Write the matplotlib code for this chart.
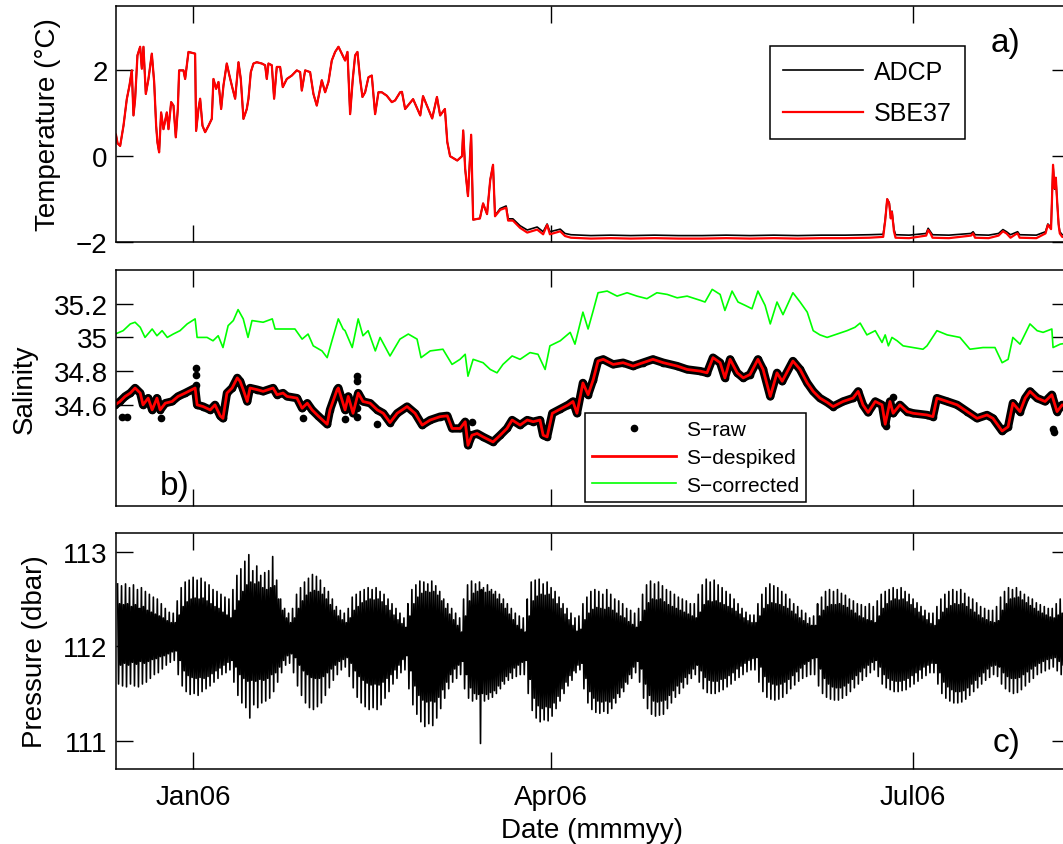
import numpy as np
import matplotlib
matplotlib.use('Agg')
import matplotlib.pyplot as plt
import matplotlib.dates as mdates
from matplotlib.ticker import FixedLocator, FixedFormatter

# mooring record: days counted from 1 Jan 2006
day0 = np.datetime64('2006-01-01T00:00')
x_range = [-19.4, 220.2]

# ---------------------------------------------
# temperature (same curve for both until late March)
# ---------------------------------------------
warm_day = [-19.4, -19.0, -18.35, -17.51, -16.68, -16.0, -15.42, -15.0, -14.58, -14.0,
            -13.32, -12.9, -12.49, -11.9, -11.23, -10.39, -9.8, -9.3, -8.97, -8.55,
            -8.05, -7.46, -6.62, -6.2, -5.53, -4.94, -4.36, -3.85, -3.52, -2.43,
            -2.01, -1.17, 0.5, 0.75, 1.34, 1.76, 2.35, 3.02, 3.86, 4.69,
            5.11, 5.78, 6.37, 7.04, 7.63, 8.46, 9.13, 9.72, 10.56, 11.4,
            11.98, 12.65, 13.49, 13.91, 14.5, 15.17, 16.0, 17.26, 18.1, 18.52,
            18.94, 19.78, 20.36, 21.03, 21.87, 22.54, 23.55, 24.81, 26.06, 26.9,
            27.32, 28.16, 29.41, 30.25, 31.09, 31.76, 32.35, 33.19, 34.02, 34.86,
            35.7, 36.54, 37.38, 38.21, 38.8, 39.47, 40.14, 40.73, 41.31, 41.98,
            42.57, 43.24, 44.08, 44.92, 45.75, 46.59, 47.43, 48.69, 49.95, 50.78,
            52.04, 52.5, 53.3, 55.3, 57.1, 57.8, 60.1, 61.3, 62.1, 63.3,
            63.9, 64.6, 66.4, 67.6, 67.9, 68.4, 69.1, 69.9, 70.4, 72.1,
            72.9, 73.9, 74.7, 75.4]
warm_temp = [0.50, 0.30, 0.24, 0.71, 1.33, 1.65, 2.00, 0.95, 1.34, 2.35,
             2.55, 2.04, 2.55, 1.45, 1.80, 2.39, 1.73, 0.71, 0.32, 0.09,
             1.02, 0.63, 1.02, 0.63, 1.26, 1.18, 0.44, 1.10, 2.00, 2.00,
             1.80, 2.43, 2.39, 0.59, 1.10, 1.34, 0.71, 0.56, 0.71, 0.87,
             1.80, 1.57, 1.73, 1.10, 1.65, 2.16, 1.88, 1.65, 1.34, 2.19,
             1.80, 0.87, 1.10, 1.34, 1.96, 2.16, 2.19, 2.16, 2.12, 1.80,
             2.16, 2.12, 1.34, 2.08, 2.08, 1.61, 1.80, 1.88, 2.00, 1.96,
             1.53, 2.00, 1.96, 1.45, 1.18, 1.49, 1.77, 1.49, 1.73, 2.23,
             2.43, 2.55, 2.39, 2.23, 2.43, 0.98, 1.80, 2.35, 2.43, 1.80,
             1.38, 1.49, 1.84, 1.88, 0.98, 1.49, 1.49, 1.41, 1.26, 1.30,
             1.49, 1.50, 1.10, 1.33, 0.95, 1.40, 0.88, 1.38, 0.95, 1.10,
             0.33, 0.00, -0.10, 0.00, 0.60, -0.30, -0.93, 0.50, -1.48, -1.45,
             -1.10, -1.35, -0.55, -0.20]

cold_day = [75.9, 77.2, 78.7, 79.2, 80.4, 82.2, 84.0, 86.5, 88.0, 89.0,
            89.7, 92.3, 93.5, 95, 100, 105, 110, 116, 122, 128,
            134, 140, 146, 152, 158, 164, 170, 173.5, 174.0, 174.5,
            175.0, 175.4, 175.7, 176.2, 176.6, 180, 184.3, 184.8, 185.4, 185.9,
            190, 195.6, 196.1, 196.6, 200, 202.5, 203.6, 204.5, 205.5, 206.8,
            207.3, 207.8, 212, 214.3, 214.9, 215.7, 216.2, 216.6, 216.9, 217.2,
            217.6, 217.9, 218.5, 220.5]
sbe37_cold = [-1.40, -1.25, -1.20, -1.50, -1.50, -1.67, -1.78, -1.71, -1.82, -1.60,
              -1.82, -1.75, -1.86, -1.90, -1.92, -1.91, -1.92, -1.91, -1.92, -1.92,
              -1.91, -1.92, -1.91, -1.92, -1.91, -1.91, -1.90, -1.88, -1.50, -1.00,
              -1.10, -1.45, -1.30, -1.75, -1.90, -1.91, -1.85, -1.72, -1.80, -1.90,
              -1.91, -1.85, -1.80, -1.90, -1.91, -1.85, -1.75, -1.80, -1.90, -1.82,
              -1.80, -1.90, -1.91, -1.80, -1.60, -1.70, -0.20, -0.75, -0.50, -1.00,
              -1.60, -1.80, -1.88, -1.90]
adcp_cold = [-1.38, -1.22, -1.16, -1.46, -1.46, -1.62, -1.72, -1.65, -1.76, -1.58,
             -1.76, -1.70, -1.80, -1.83, -1.85, -1.84, -1.85, -1.84, -1.85, -1.85,
             -1.84, -1.85, -1.84, -1.85, -1.84, -1.84, -1.83, -1.82, -1.48, -1.00,
             -1.08, -1.42, -1.28, -1.70, -1.83, -1.84, -1.80, -1.68, -1.76, -1.83,
             -1.84, -1.80, -1.76, -1.83, -1.84, -1.80, -1.71, -1.76, -1.83, -1.78,
             -1.76, -1.83, -1.84, -1.76, -1.58, -1.66, -0.22, -0.77, -0.52, -1.02,
             -1.58, -1.76, -1.83, -1.84]

# ---------------------------------------------
# salinity: despiked, corrected and raw spikes
# ---------------------------------------------
sal_day = [-19.6, -18.4, -17.1, -15.8, -14.6, -13.3, -12.6, -11.3, -10.3, -9.1,
           -8.3, -7.0, -5.3, -3.8, -2.0, -0.3, 0.5, 1.0, 2.5, 4.3,
           5.5, 6.8, 7.5, 8.5, 9.8, 11.1, 11.8, 12.6, 13.6, 14.3,
           16.1, 17.6, 20.1, 21.1, 22.6, 23.6, 26.1, 27.4, 28.7, 29.9,
           31.4, 33.7, 34.4, 36.2, 36.5, 38.2, 39.0, 40.2, 41.5, 42.7,
           44.5, 46.3, 47.8, 49.5, 51.3, 53.8, 55.8, 57.6, 59.6, 62.1,
           63.9, 65.1, 67.1, 68.4, 69.1, 70.1, 71.4, 72.9, 75.4, 77.2,
           78.9, 80.2, 82.2, 84.0, 85.5, 87.2, 88.0, 89.0, 90.3, 92.3,
           94.3, 95.5, 96.5, 98.0, 99.3, 100.6, 101.8, 103.1, 105.6, 108.1,
           110.6, 113.1, 115.6, 118.2, 121.7, 124.2, 127.5, 129.2, 130.7, 132.5,
           133.7, 135.0, 136.8, 138.3, 140.0, 142.0, 143.3, 145.1, 146.8, 148.1,
           150.8, 152.6, 154.4, 155.9, 157.6, 159.4, 160.9, 163.4, 165.9, 167.2,
           168.4, 169.7, 171.5, 173.2, 174.0, 175.2, 176.0, 177.7, 179.5, 181.0,
           184.5, 186.0, 187.0, 189.6, 192.1, 194.6, 197.1, 199.6, 201.1, 203.4,
           204.9, 206.1, 207.9, 209.2, 210.4, 212.2, 214.2, 215.9, 217.2, 218.5,
           220.5]
sal_despiked = [34.60, 34.62, 34.65, 34.67, 34.70, 34.67, 34.60, 34.64, 34.57, 34.64,
                34.57, 34.61, 34.62, 34.65, 34.67, 34.69, 34.70, 34.60, 34.59, 34.57,
                34.60, 34.535, 34.52, 34.67, 34.70, 34.76, 34.74, 34.69, 34.62, 34.70,
                34.69, 34.68, 34.70, 34.66, 34.67, 34.65, 34.64, 34.58, 34.61, 34.57,
                34.535, 34.485, 34.57, 34.69, 34.70, 34.57, 34.65, 34.55, 34.67, 34.62,
                34.61, 34.57, 34.55, 34.495, 34.55, 34.59, 34.55, 34.48, 34.51, 34.53,
                34.535, 34.46, 34.46, 34.50, 34.36, 34.42, 34.43, 34.41, 34.38, 34.42,
                34.46, 34.51, 34.48, 34.51, 34.50, 34.51, 34.42, 34.41, 34.55, 34.575,
                34.60, 34.62, 34.55, 34.73, 34.66, 34.75, 34.86, 34.87, 34.84, 34.85,
                34.83, 34.85, 34.87, 34.85, 34.83, 34.81, 34.80, 34.79, 34.88, 34.85,
                34.76, 34.87, 34.79, 34.76, 34.78, 34.87, 34.81, 34.65, 34.79, 34.74,
                34.86, 34.81, 34.73, 34.68, 34.64, 34.615, 34.59, 34.62, 34.64, 34.68,
                34.60, 34.555, 34.62, 34.60, 34.485, 34.62, 34.55, 34.60, 34.56, 34.55,
                34.54, 34.53, 34.64, 34.62, 34.60, 34.56, 34.52, 34.54, 34.52, 34.445,
                34.47, 34.61, 34.56, 34.64, 34.68, 34.64, 34.62, 34.66, 34.56, 34.60,
                34.58]

corr_day = [-19.6, -17.6, -15.8, -14.6, -13.3, -12.1, -10.3, -9.1, -7.8, -6.5,
            -5.0, -3.3, -1.5, 0.5, 1.0, 3.5, 5.0, 6.3, 7.5, 8.8,
            10.1, 11.3, 12.6, 13.8, 14.8, 17.6, 19.9, 20.6, 22.6, 25.6,
            27.4, 28.9, 30.2, 32.4, 33.7, 34.9, 36.5, 37.7, 38.2, 40.0,
            41.5, 42.7, 44.0, 45.8, 47.0, 49.5, 52.0, 54.1, 56.3, 57.3,
            59.6, 62.8, 65.1, 67.1, 68.4, 69.1, 70.4, 72.9, 74.7, 76.4,
            77.9, 80.2, 82.2, 84.7, 86.7, 88.5, 89.7, 92.3, 94.8, 96.0,
            98.0, 99.3, 100.6, 101.8, 104.1, 106.6, 109.1, 111.6, 114.1, 116.6,
            119.2, 121.7, 124.2, 127.5, 128.7, 130.5, 132.5, 133.7, 135.5, 137.0,
            138.8, 140.5, 142.0, 143.8, 145.1, 146.8, 148.3, 150.8, 152.6, 154.4,
            155.9, 157.6, 159.4, 161.9, 164.4, 166.4, 167.7, 169.4, 171.5, 173.2,
            174.0, 174.8, 175.7, 177.0, 178.5, 181.0, 183.5, 184.5, 187.0, 189.6,
            192.8, 195.3, 198.6, 201.6, 203.4, 204.9, 206.1, 207.9, 210.4, 212.2,
            213.7, 215.9, 216.2, 218.0, 220.5]
sal_corrected = [35.02, 35.04, 35.08, 35.09, 35.06, 35.00, 35.05, 35.01, 35.04, 35.00,
                 35.02, 35.04, 35.08, 35.11, 35.00, 35.00, 34.98, 35.01, 34.94, 35.07,
                 35.10, 35.165, 35.11, 35.00, 35.10, 35.09, 35.11, 35.05, 35.05, 35.05,
                 34.99, 35.02, 34.95, 34.92, 34.88, 34.98, 35.11, 35.05, 35.04, 34.94,
                 35.11, 35.01, 35.04, 34.92, 35.00, 34.89, 34.99, 35.02, 34.99, 34.88,
                 34.92, 34.93, 34.84, 34.87, 34.90, 34.77, 34.87, 34.85, 34.81, 34.79,
                 34.84, 34.89, 34.87, 34.91, 34.90, 34.81, 34.95, 34.98, 35.03, 34.96,
                 35.15, 35.05, 35.16, 35.265, 35.275, 35.245, 35.265, 35.245, 35.23, 35.265,
                 35.255, 35.235, 35.245, 35.22, 35.21, 35.285, 35.255, 35.16, 35.275, 35.21,
                 35.19, 35.17, 35.275, 35.19, 35.08, 35.21, 35.135, 35.265, 35.21, 35.15,
                 35.04, 35.015, 35.00, 35.02, 35.04, 35.06, 35.085, 35.015, 35.04, 34.97,
                 35.015, 34.95, 35.00, 34.98, 34.95, 34.94, 34.93, 34.95, 35.04, 35.015,
                 35.00, 34.93, 34.94, 34.94, 34.85, 34.87, 35.00, 34.96, 35.08, 35.04,
                 35.03, 35.05, 34.94, 34.96, 34.97]

# raw samples removed by the despiking
spike_day = [-17.8, -16.6, -8.0, 0.8, 0.8, 0.8, 27.7, 38.2, 41.2, 41.2,
             41.2, 41.2, 46.3, 70.1, 174.3, 176.0, 216.2, 216.4]
spike_sal = [34.525, 34.525, 34.52, 34.82, 34.78, 34.72, 34.52, 34.515, 34.77, 34.74,
             34.58, 34.525, 34.485, 34.50, 34.475, 34.645, 34.455, 34.44]

# ---------------------------------------------
# bottom pressure: daily tidal extremes, days -19 .. 220
# higher high, lower high, higher low, lower low
# ---------------------------------------------
p_day = np.arange(-19, 221)
p_high_outer = [112.66, 112.64, 112.66, 112.62, 112.65, 112.60, 112.62, 112.58, 112.55, 112.52,
                112.50, 112.45, 112.40, 112.36, 112.35, 112.48, 112.62, 112.68, 112.70, 112.73,
                112.70, 112.72, 112.68, 112.65, 112.60, 112.58, 112.55, 112.52, 112.50, 112.60,
                112.75, 112.82, 112.90, 112.97, 112.80, 112.85, 112.75, 112.78, 112.80, 112.95,
                112.70, 112.50, 112.40, 112.35, 112.40, 112.55, 112.62, 112.68, 112.72, 112.76,
                112.74, 112.70, 112.62, 112.58, 112.50, 112.42, 112.38, 112.35, 112.40, 112.52,
                112.55, 112.58, 112.60, 112.62, 112.60, 112.62, 112.58, 112.55, 112.50, 112.45,
                112.40, 112.35, 112.30, 112.45, 112.60, 112.65, 112.69, 112.68, 112.66, 112.69,
                112.64, 112.58, 112.50, 112.45, 112.40, 112.35, 112.30, 112.50, 112.65, 112.69,
                112.66, 112.68, 112.62, 112.65, 112.60, 112.58, 112.55, 112.50, 112.45, 112.40,
                112.35, 112.32, 112.30, 112.50, 112.68, 112.70, 112.71, 112.66, 112.68, 112.62,
                112.58, 112.52, 112.45, 112.40, 112.35, 112.30, 112.32, 112.45, 112.52, 112.58,
                112.60, 112.58, 112.55, 112.60, 112.55, 112.50, 112.48, 112.45, 112.40, 112.38,
                112.35, 112.40, 112.55, 112.65, 112.69, 112.66, 112.68, 112.64, 112.60, 112.58,
                112.55, 112.52, 112.50, 112.48, 112.45, 112.45, 112.55, 112.65, 112.71, 112.68,
                112.70, 112.65, 112.62, 112.58, 112.55, 112.50, 112.45, 112.40, 112.36, 112.33,
                112.33, 112.45, 112.55, 112.62, 112.66, 112.64, 112.62, 112.58, 112.55, 112.50,
                112.45, 112.42, 112.38, 112.35, 112.30, 112.32, 112.45, 112.52, 112.58, 112.60,
                112.58, 112.60, 112.56, 112.54, 112.50, 112.48, 112.45, 112.44, 112.42, 112.45,
                112.42, 112.48, 112.55, 112.58, 112.60, 112.62, 112.60, 112.62, 112.58, 112.55,
                112.50, 112.46, 112.42, 112.38, 112.35, 112.35, 112.42, 112.50, 112.55, 112.58,
                112.60, 112.58, 112.60, 112.56, 112.52, 112.50, 112.46, 112.42, 112.40, 112.38,
                112.38, 112.42, 112.52, 112.58, 112.62, 112.60, 112.62, 112.58, 112.55, 112.52,
                112.50, 112.46, 112.44, 112.42, 112.40, 112.40, 112.45, 112.50, 112.55, 112.60]
p_high_inner = [112.45, 112.44, 112.45, 112.42, 112.44, 112.40, 112.42, 112.38, 112.36, 112.34,
                112.32, 112.30, 112.27, 112.25, 112.25, 112.33, 112.42, 112.47, 112.50, 112.51,
                112.50, 112.51, 112.48, 112.45, 112.42, 112.40, 112.36, 112.33, 112.30, 112.38,
                112.48, 112.58, 112.65, 112.68, 112.66, 112.68, 112.62, 112.60, 112.62, 112.64,
                112.50, 112.38, 112.30, 112.25, 112.30, 112.40, 112.48, 112.54, 112.57, 112.59,
                112.58, 112.55, 112.50, 112.44, 112.38, 112.32, 112.28, 112.25, 112.30, 112.38,
                112.42, 112.46, 112.48, 112.50, 112.49, 112.50, 112.47, 112.43, 112.38, 112.33,
                112.28, 112.24, 112.20, 112.32, 112.45, 112.52, 112.56, 112.58, 112.57, 112.58,
                112.54, 112.48, 112.40, 112.34, 112.28, 112.22, 112.15, 112.32, 112.48, 112.56,
                112.58, 112.60, 112.57, 112.58, 112.55, 112.50, 112.45, 112.40, 112.34, 112.28,
                112.22, 112.18, 112.15, 112.32, 112.48, 112.53, 112.55, 112.54, 112.55, 112.50,
                112.45, 112.40, 112.34, 112.28, 112.22, 112.16, 112.18, 112.28, 112.35, 112.39,
                112.41, 112.40, 112.39, 112.41, 112.38, 112.35, 112.32, 112.30, 112.26, 112.23,
                112.20, 112.26, 112.38, 112.46, 112.50, 112.49, 112.50, 112.47, 112.44, 112.42,
                112.40, 112.38, 112.36, 112.34, 112.32, 112.30, 112.36, 112.44, 112.48, 112.47,
                112.48, 112.46, 112.44, 112.42, 112.40, 112.37, 112.34, 112.30, 112.27, 112.25,
                112.25, 112.32, 112.40, 112.44, 112.46, 112.45, 112.44, 112.42, 112.40, 112.37,
                112.34, 112.30, 112.27, 112.24, 112.22, 112.22, 112.32, 112.38, 112.42, 112.44,
                112.44, 112.45, 112.43, 112.41, 112.38, 112.35, 112.32, 112.30, 112.28, 112.27,
                112.25, 112.32, 112.40, 112.45, 112.48, 112.50, 112.49, 112.50, 112.47, 112.44,
                112.40, 112.36, 112.32, 112.28, 112.24, 112.22, 112.28, 112.36, 112.40, 112.43,
                112.45, 112.44, 112.45, 112.42, 112.39, 112.36, 112.33, 112.30, 112.28, 112.26,
                112.25, 112.27, 112.38, 112.45, 112.50, 112.51, 112.52, 112.49, 112.46, 112.43,
                112.40, 112.37, 112.35, 112.33, 112.31, 112.30, 112.33, 112.35, 112.40, 112.45]
p_low_inner = [111.80, 111.82, 111.80, 111.83, 111.81, 111.84, 111.82, 111.84, 111.86, 111.87,
               111.89, 111.90, 111.92, 111.94, 111.95, 111.85, 111.74, 111.69, 111.67, 111.66,
               111.67, 111.66, 111.68, 111.71, 111.74, 111.77, 111.80, 111.83, 111.85, 111.78,
               111.70, 111.66, 111.63, 111.64, 111.63, 111.65, 111.64, 111.66, 111.70, 111.72,
               111.78, 111.85, 111.90, 111.92, 111.88, 111.80, 111.74, 111.70, 111.67, 111.66,
               111.66, 111.68, 111.72, 111.76, 111.80, 111.84, 111.86, 111.88, 111.82, 111.74,
               111.68, 111.64, 111.61, 111.59, 111.60, 111.59, 111.62, 111.66, 111.70, 111.75,
               111.80, 111.86, 111.90, 111.74, 111.58, 111.48, 111.43, 111.41, 111.42, 111.41,
               111.46, 111.54, 111.62, 111.70, 111.76, 111.80, 111.84, 111.70, 111.56, 111.50,
               111.49, 111.50, 111.49, 111.51, 111.53, 111.58, 111.63, 111.68, 111.72, 111.77,
               111.80, 111.83, 111.85, 111.65, 111.45, 111.37, 111.34, 111.36, 111.35, 111.40,
               111.47, 111.55, 111.62, 111.69, 111.74, 111.80, 111.82, 111.66, 111.52, 111.45,
               111.42, 111.41, 111.42, 111.41, 111.45, 111.50, 111.56, 111.62, 111.70, 111.78,
               111.84, 111.76, 111.60, 111.48, 111.42, 111.41, 111.42, 111.43, 111.48, 111.53,
               111.58, 111.62, 111.67, 111.71, 111.76, 111.80, 111.74, 111.67, 111.64, 111.63,
               111.63, 111.65, 111.66, 111.69, 111.72, 111.76, 111.79, 111.82, 111.85, 111.87,
               111.88, 111.78, 111.68, 111.62, 111.60, 111.59, 111.60, 111.62, 111.65, 111.69,
               111.73, 111.77, 111.81, 111.84, 111.87, 111.88, 111.76, 111.66, 111.60, 111.57,
               111.56, 111.56, 111.58, 111.61, 111.65, 111.69, 111.73, 111.77, 111.80, 111.83,
               111.85, 111.78, 111.70, 111.66, 111.64, 111.63, 111.63, 111.64, 111.66, 111.69,
               111.72, 111.75, 111.78, 111.80, 111.82, 111.82, 111.72, 111.62, 111.57, 111.54,
               111.52, 111.52, 111.53, 111.56, 111.60, 111.64, 111.68, 111.72, 111.76, 111.79,
               111.80, 111.78, 111.72, 111.68, 111.66, 111.66, 111.67, 111.70, 111.73, 111.76,
               111.79, 111.82, 111.84, 111.86, 111.87, 111.88, 111.84, 111.80, 111.75, 111.70]
p_low_outer = [111.60, 111.58, 111.57, 111.60, 111.58, 111.57, 111.60, 111.62, 111.66, 111.70,
               111.72, 111.76, 111.80, 111.83, 111.85, 111.70, 111.58, 111.52, 111.49, 111.50,
               111.48, 111.52, 111.55, 111.58, 111.62, 111.66, 111.70, 111.72, 111.75, 111.62,
               111.48, 111.40, 111.35, 111.24, 111.38, 111.35, 111.40, 111.42, 111.45, 111.52,
               111.62, 111.72, 111.80, 111.82, 111.72, 111.58, 111.48, 111.40, 111.35, 111.33,
               111.36, 111.40, 111.48, 111.56, 111.64, 111.70, 111.75, 111.78, 111.68, 111.56,
               111.46, 111.40, 111.36, 111.33, 111.35, 111.33, 111.38, 111.45, 111.52, 111.60,
               111.66, 111.72, 111.75, 111.55, 111.38, 111.28, 111.20, 111.15, 111.18, 111.16,
               111.24, 111.34, 111.45, 111.55, 111.62, 111.66, 111.70, 111.55, 111.45, 111.42,
               111.44, 110.97, 111.42, 111.44, 111.46, 111.50, 111.55, 111.60, 111.64, 111.66,
               111.68, 111.70, 111.70, 111.50, 111.32, 111.24, 111.20, 111.22, 111.21, 111.26,
               111.34, 111.42, 111.50, 111.58, 111.64, 111.72, 111.75, 111.55, 111.40, 111.33,
               111.30, 111.29, 111.31, 111.29, 111.34, 111.40, 111.46, 111.52, 111.60, 111.66,
               111.72, 111.62, 111.45, 111.34, 111.28, 111.26, 111.27, 111.28, 111.34, 111.40,
               111.46, 111.50, 111.56, 111.60, 111.66, 111.70, 111.62, 111.55, 111.51, 111.50,
               111.50, 111.52, 111.54, 111.57, 111.60, 111.64, 111.67, 111.70, 111.73, 111.75,
               111.75, 111.62, 111.52, 111.46, 111.44, 111.43, 111.44, 111.46, 111.50, 111.55,
               111.59, 111.63, 111.66, 111.68, 111.70, 111.70, 111.58, 111.50, 111.46, 111.44,
               111.43, 111.43, 111.45, 111.48, 111.52, 111.56, 111.60, 111.64, 111.68, 111.72,
               111.75, 111.68, 111.60, 111.56, 111.54, 111.52, 111.52, 111.53, 111.54, 111.57,
               111.60, 111.63, 111.66, 111.69, 111.72, 111.72, 111.60, 111.50, 111.45, 111.42,
               111.40, 111.40, 111.41, 111.44, 111.48, 111.52, 111.56, 111.60, 111.64, 111.67,
               111.70, 111.68, 111.60, 111.55, 111.52, 111.50, 111.51, 111.54, 111.58, 111.62,
               111.66, 111.70, 111.72, 111.74, 111.76, 111.78, 111.74, 111.70, 111.62, 111.55]

# tick labels
temp_ticks = [-2, 0, 2]
sal_ticks = [34.6, 34.8, 35.0, 35.2]
sal_tick_labels = ['34.6', '34.8', '35', '35.2']
pres_ticks = [111, 112, 113]


def to_date(days):
    minutes = np.round(np.asarray(days, dtype=float) * 1440).astype('int64')
    return day0 + minutes.astype('timedelta64[m]')


plt.rcParams['font.family'] = ['Liberation Sans', 'DejaVu Sans']
plt.rcParams['font.size'] = 20

fig = plt.figure(figsize=(10.63, 8.45), dpi=100)
ax_t = fig.add_axes([0.1091, 0.7124, 0.8965, 0.2793])
ax_s = fig.add_axes([0.1091, 0.4000, 0.8965, 0.2793])
ax_p = fig.add_axes([0.1091, 0.0888, 0.8965, 0.2793])

for ax in (ax_t, ax_s, ax_p):
    ax.set_xlim(to_date(x_range))
    ax.xaxis.set_major_locator(mdates.MonthLocator(bymonth=[1, 4, 7]))
    ax.xaxis.set_major_formatter(mdates.DateFormatter('%b%y'))
    ax.tick_params(direction='in', length=12, width=1.0, top=True, right=True,
                   labelsize=20)
    ax.tick_params(axis='y', pad=6)
    ax.tick_params(axis='x', pad=11)
    for s in ax.spines.values():
        s.set_linewidth(1.1)

# a) temperature
ax_t.plot(to_date(warm_day + cold_day), warm_temp + adcp_cold, color='k', lw=1.2,
          label='ADCP')
ax_t.plot(to_date(warm_day + cold_day), warm_temp + sbe37_cold, color='r', lw=1.6,
          label='SBE37')
ax_t.set_ylim(-2, 3.5)
ax_t.set_yticks(temp_ticks)
ax_t.set_ylabel('Temperature (\u00b0C)', labelpad=11)
ax_t.tick_params(labelbottom=False)
leg = ax_t.legend(loc='upper left', bbox_to_anchor=(0.686, 0.8305), fontsize=18,
                  fancybox=False, edgecolor='k', framealpha=1, borderpad=0.55,
                  handlelength=3.2, handletextpad=0.4, labelspacing=0.7,
                  borderaxespad=0)
leg.get_frame().set_linewidth(1.1)
ax_t.text(0.933, 0.847, 'a)', transform=ax_t.transAxes, fontsize=24,
          ha='center', va='center')

# b) salinity
ax_s.plot(to_date(sal_day), sal_despiked, color='k', lw=6,
          solid_joinstyle='round', solid_capstyle='round')
ax_s.plot(to_date(sal_day + spike_day), sal_despiked + spike_sal, ls='none',
          marker='.', ms=9, color='k', label='S\u2212raw')
ax_s.plot(to_date(sal_day), sal_despiked, color='r', lw=2.0, label='S\u2212despiked')
ax_s.plot(to_date(corr_day), sal_corrected, color='#00ff00', lw=1.2,
          label='S\u2212corrected')
ax_s.set_ylim(34.0, 35.4)
ax_s.yaxis.set_major_locator(FixedLocator(sal_ticks))
ax_s.yaxis.set_major_formatter(FixedFormatter(sal_tick_labels))
ax_s.set_ylabel('Salinity', labelpad=11)
ax_s.tick_params(labelbottom=False)
leg = ax_s.legend(loc='lower left', bbox_to_anchor=(0.4921, 0.017), fontsize=15,
                  fancybox=False, edgecolor='k', framealpha=1, borderpad=0.35,
                  handlelength=4.0, handletextpad=0.5, labelspacing=0.42,
                  borderaxespad=0)
leg.get_frame().set_linewidth(1.1)
ax_s.text(0.062, 0.085, 'b)', transform=ax_s.transAxes, fontsize=24,
          ha='center', va='center')

# c) pressure: four tidal turning points per day
p_t = (p_day[:, None] + np.array([0.0, 0.25, 0.5, 0.75])[None, :]).ravel()
p_val = np.column_stack([p_high_outer, p_low_outer, p_high_inner, p_low_inner]).ravel()
ax_p.plot(to_date(p_t), p_val, color='k', lw=1.2)
ax_p.set_ylim(110.7, 113.2)
ax_p.set_yticks(pres_ticks)
ax_p.set_ylabel('Pressure (dbar)', labelpad=11)
ax_p.set_xlabel('Date (mmmyy)', labelpad=5)
ax_p.text(0.935, 0.114, 'c)', transform=ax_p.transAxes, fontsize=24,
          ha='center', va='center')

fig.savefig('out.png', dpi=100)
